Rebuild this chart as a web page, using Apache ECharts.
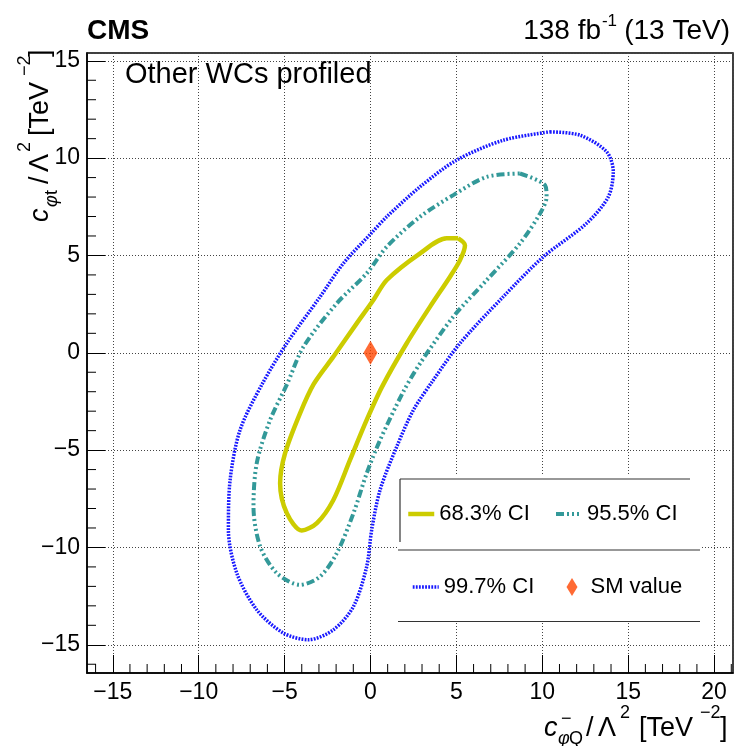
<!DOCTYPE html>
<html><head><meta charset="utf-8">
<script src="https://cdn.jsdelivr.net/npm/echarts@6/dist/echarts.min.js"></script>
<style>html,body{margin:0;padding:0;background:#fff}#c{width:734px;height:746px}</style>
</head><body><div id="c"></div>
<script>
// ---- data ----
const seriesNames = ['68.3% CI', '95.5% CI', '99.7% CI', 'SM value'];
const ci683 = [[5.11,5.88],[5.50,5.53],[5.21,4.76],[4.63,3.91],[3.47,2.37],[2.11,0.49],[0.70,-1.70],[-0.22,-3.45],[-1.19,-5.50],[-2.16,-7.56],[-3.12,-8.75],[-4.00,-9.13],[-4.87,-8.24],[-5.26,-6.70],[-4.97,-5.16],[-4.10,-3.11],[-3.30,-1.60],[-2.16,-0.20],[-0.80,1.51],[0.17,2.71],[0.95,3.74],[2.89,5.11],[4.44,5.88],[5.11,5.88]];
const ci955 = [[8.70,9.21],[10.16,8.61],[10.25,8.01],[9.87,7.16],[8.70,5.62],[6.77,3.74],[4.82,1.85],[2.89,-0.54],[1.91,-2.00],[0.56,-4.48],[-0.22,-6.19],[-0.99,-8.24],[-1.96,-10.29],[-2.93,-11.49],[-4.10,-11.92],[-5.45,-11.32],[-6.42,-9.95],[-6.81,-7.90],[-6.62,-5.67],[-5.84,-3.45],[-4.85,-1.60],[-3.90,0.31],[-1.96,2.54],[-0.22,4.08],[0.95,5.45],[2.89,6.99],[4.82,8.10],[6.77,9.04],[8.70,9.21]];
const ci997 = [[10.45,11.35],[12.19,11.18],[13.75,10.32],[14.13,9.30],[13.84,8.01],[12.58,6.65],[10.06,4.93],[7.73,2.88],[5.21,0.49],[3.66,-1.40],[2.50,-2.94],[1.53,-4.82],[0.56,-7.04],[0.07,-9.10],[-0.22,-10.98],[-0.99,-13.03],[-2.16,-14.23],[-3.61,-14.74],[-5.07,-14.40],[-6.62,-13.20],[-7.78,-11.32],[-8.27,-9.10],[-8.17,-6.53],[-7.59,-3.96],[-6.30,-1.60],[-4.87,0.49],[-2.93,2.88],[-1.58,4.59],[0.03,6.13],[0.95,6.99],[2.89,8.53],[5.02,9.90],[7.73,10.92],[10.45,11.35]];
const smPoint = [[0, 0]];
const xRange = [-16.5, 21.1];
const yRange = [-16.45, 15.4];
const xMinorTicks = [-16,-14,-13,-12,-11,-9,-8,-7,-6,-4,-3,-2,-1,1,2,3,4,6,7,8,9,11,12,13,14,16,17,18,19,21];
const yMinorTicks = [-16,-14,-13,-12,-11,-9,-8,-7,-6,-4,-3,-2,-1,1,2,3,4,6,7,8,9,11,12,13,14];

// ---- styling ----
const FONT = "'Liberation Sans', Arial, Helvetica, sans-serif";
const C_YEL = '#cccc00', C_TEAL = '#339999', C_BLUE = '#1818ff', C_SM = '#ff4500';
const DASH_TEAL = [8, 3, 2, 3, 2, 3, 2, 3];
const DASH_BLUE = [1.8, 1.3];

function T(text, x, baseline, size, o) {
  o = o || {};
  const off = 0.31 * size;
  const rot = o.rot || 0;
  const px = rot ? baseline - off : x;
  const py = rot ? x : baseline - off;
  const al = o.align || 'left';
  return {
    type: 'text', x: px, y: py, rotation: rot, z: 20, silent: true,
    style: {
      text: text, fill: '#000',
      font: (o.italic ? 'italic ' : '') + (o.bold ? 'bold ' : '') + size + 'px ' + FONT,
      align: al, textAlign: al, verticalAlign: 'middle', textVerticalAlign: 'middle'
    }
  };
}
function L(x1, y1, x2, y2) {
  return { type: 'line', z: 15, silent: true, shape: { x1, y1, x2, y2 }, style: { stroke: '#333', lineWidth: 1.2 } };
}
const R90 = Math.PI / 2;
const yb = 49.3;       // baseline (x) of rotated y title
const graphics = [
  { type: 'rect', z: 3, silent: true, shape: { x: 398, y: 476, width: 302, height: 145.5 }, style: { fill: '#fff' } },
  L(400, 479, 690, 479), L(400, 479, 400, 542), L(398, 550, 700, 550), L(398, 621.5, 700, 621.5),
  T('CMS', 87, 40, 28, { bold: true }),
  T('(13 TeV)', 730, 40, 28, { align: 'right' }),
  T('-1', 617, 27, 17, { align: 'right' }),
  T('138 fb', 601, 40, 28, { align: 'right' }),
  T('Other WCs profiled', 125, 84, 29),
  // x title
  T('c', 544, 736.7, 27, { italic: true }),
  T('\u03c6', 558, 745, 18, { italic: true }),
  T('Q', 569, 745, 18),
  T('\u2212', 561, 724.5, 18),
  T('/', 586, 736.7, 27),
  T('\u039b', 598, 736.7, 27),
  T('2', 620, 718.3, 18),
  T('[TeV', 639, 736.7, 27),
  T('\u22122', 700, 718.3, 18),
  T(']', 720, 736.7, 27),
  // y title (rotated)
  T('c', 222, yb, 27, { italic: true, rot: R90 }),
  T('\u03c6', 207, yb + 8, 18, { italic: true, rot: R90 }),
  T('t', 195, yb + 8, 18, { rot: R90 }),
  T('/', 184, yb, 27, { rot: R90 }),
  T('\u039b', 172, yb, 27, { rot: R90 }),
  T('2', 152, yb - 18.4, 18, { rot: R90 }),
  T('[TeV', 136, yb, 27, { rot: R90 }),
  T('\u22122', 76, yb - 18.4, 18, { rot: R90 }),
  T(']', 57, yb, 27, { rot: R90 })
];

function labelFmt(v) {
  if (Math.abs(v - Math.round(v)) > 1e-6 || Math.round(v) % 5 !== 0) return '';
  return String(Math.round(v)).replace('-', '\u2212');
}
function legendFor(name, left, top, w, h, extra) {
  return Object.assign({
    data: [name], left: left, top: top, itemWidth: w, itemHeight: h, padding: 0,
    selectedMode: false, orient: 'horizontal',
    textStyle: { fontFamily: FONT, fontSize: 22, color: '#000', lineHeight: 22 }
  }, extra || {});
}
function minorSeries(vals, isX) {
  return {
    type: 'custom', silent: true, z: 6, clip: false,
    data: vals.map(v => isX ? [v, yRange[0]] : [xRange[0], v]),
    renderItem: function (params, api) {
      const p = api.coord([api.value(0), api.value(1)]);
      return {
        type: 'line',
        shape: isX ? { x1: p[0], y1: p[1], x2: p[0], y2: p[1] - 9 } : { x1: p[0], y1: p[1], x2: p[0] + 9, y2: p[1] },
        style: { stroke: '#000', lineWidth: 1 }
      };
    }
  };
}
const hideSym = { opacity: 0, borderWidth: 0 };

const chart = echarts.init(document.getElementById('c'), null, { renderer: 'canvas' });
chart.setOption({
  animation: false,
  backgroundColor: '#fff',
  grid: { left: 87, right: 1, top: 53, bottom: 73, show: true, borderColor: '#000', borderWidth: 1.5, backgroundColor: 'transparent' },
  xAxis: {
    type: 'value', min: xRange[0], max: xRange[1], splitNumber: 7,
    axisLine: { show: true, onZero: false, lineStyle: { color: '#000', width: 1.5 } },
    axisTick: { show: true, inside: true, length: 18, lineStyle: { color: '#000', width: 1 } },
    minorTick: { show: false },
    splitLine: { show: true, lineStyle: { color: '#444', width: 1, type: [1, 2] } },
    axisLabel: { formatter: labelFmt, showMinLabel: false, showMaxLabel: false, fontFamily: FONT, fontSize: 23, color: '#000', margin: 8 }
  },
  yAxis: {
    type: 'value', min: yRange[0], max: yRange[1], splitNumber: 6,
    axisLine: { show: true, onZero: false, lineStyle: { color: '#000', width: 1.5 } },
    axisTick: { show: true, inside: true, length: 18, lineStyle: { color: '#000', width: 1 } },
    minorTick: { show: false },
    splitLine: { show: true, lineStyle: { color: '#444', width: 1, type: [1, 2] } },
    axisLabel: { formatter: labelFmt, showMinLabel: false, showMaxLabel: false, fontFamily: FONT, fontSize: 23, color: '#000', margin: 7 }
  },
  legend: [
    legendFor(seriesNames[0], 406, 503, 26, 14, { lineStyle: { width: 4.5 }, itemStyle: hideSym }),
    legendFor(seriesNames[1], 554, 503, 26, 14, { lineStyle: { width: 4 }, itemStyle: hideSym }),
    legendFor(seriesNames[2], 411, 576, 26, 14, { lineStyle: { width: 3.5 }, itemStyle: hideSym }),
    legendFor(seriesNames[3], 566.5, 576, 11, 18, { icon: 'diamond', textStyle: { fontFamily: FONT, fontSize: 22, color: '#000', lineHeight: 22, padding: [0, 0, 0, 8] } })
  ],
  graphic: { elements: graphics },
  series: [
    { name: seriesNames[2], type: 'line', data: ci997, smooth: 0.3, symbol: 'none', z: 2,
      lineStyle: { color: C_BLUE, width: 3.5, type: DASH_BLUE }, itemStyle: { color: C_BLUE } },
    { name: seriesNames[1], type: 'line', data: ci955, smooth: 0.3, symbol: 'none', z: 2,
      lineStyle: { color: C_TEAL, width: 4, type: DASH_TEAL }, itemStyle: { color: C_TEAL } },
    { name: seriesNames[0], type: 'line', data: ci683, smooth: 0.3, symbol: 'none', z: 2,
      lineStyle: { color: C_YEL, width: 4.5 }, itemStyle: { color: C_YEL } },
    { name: seriesNames[3], type: 'scatter', data: smPoint, symbol: 'diamond', symbolSize: [14, 24], z: 4,
      itemStyle: { color: C_SM } },
    minorSeries(xMinorTicks, true),
    minorSeries(yMinorTicks, false)
  ]
});
</script></body></html>
